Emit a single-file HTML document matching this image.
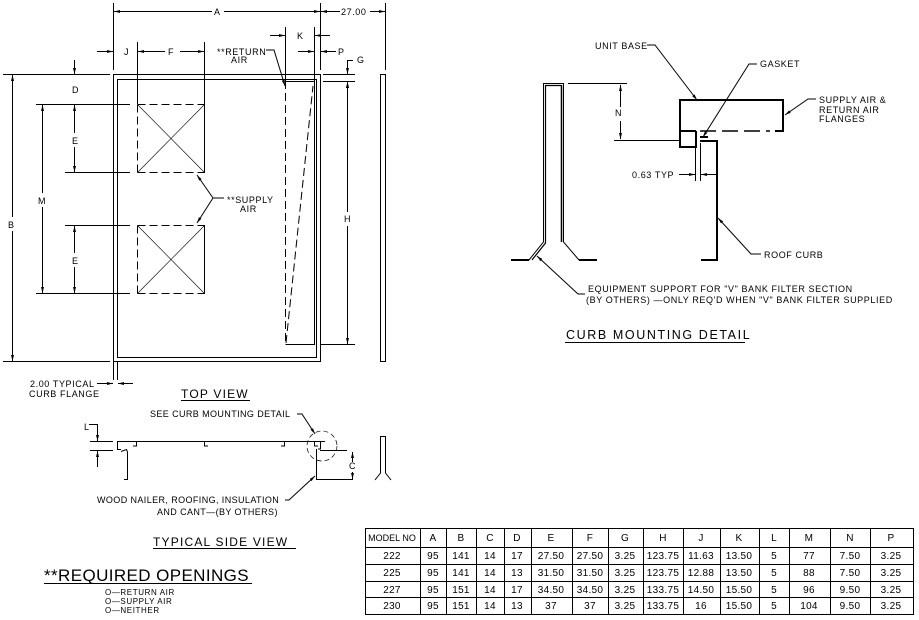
<!DOCTYPE html>
<html><head><meta charset="utf-8"><style>
html,body{margin:0;padding:0;background:#fff}
svg{display:block}
text{font-family:"Liberation Sans",sans-serif;font-size:9px;fill:#000;letter-spacing:0.6px}
.t{letter-spacing:1.6px}
.tb text{font-size:10px;letter-spacing:0.3px}
</style></head><body>
<svg width="919" height="620" viewBox="0 0 919 620" xmlns="http://www.w3.org/2000/svg">
<defs>
<marker id="ar" viewBox="0 0 6 4" refX="6" refY="2" markerWidth="6" markerHeight="4" orient="auto-start-reverse" markerUnits="userSpaceOnUse"><path d="M0,0.5 L6,2 L0,3.5z" fill="#000"/></marker>
</defs>
<g stroke="#000" stroke-width="1" fill="none">
<rect x="113.5" y="74.5" width="207" height="287"/>
<rect x="117.5" y="79.5" width="199" height="278"/>
<g stroke-dasharray="8,4"><line x1="137.5" y1="104.5" x2="204.5" y2="104.5"/><line x1="137.5" y1="172.5" x2="204.5" y2="172.5"/><line x1="137.5" y1="104.5" x2="137.5" y2="172.5"/>
<line x1="137.5" y1="225.5" x2="204.5" y2="225.5"/><line x1="137.5" y1="293.5" x2="204.5" y2="293.5"/><line x1="137.5" y1="225.5" x2="137.5" y2="293.5"/>
<line x1="285.5" y1="81" x2="285.5" y2="344"/><line x1="286" y1="343" x2="313" y2="86"/></g>
<line x1="204.5" y1="104" x2="204.5" y2="173"/><line x1="204.5" y1="225" x2="204.5" y2="294"/>
<g stroke-width="0.6"><line x1="138" y1="105" x2="204" y2="172"/><line x1="204" y1="105" x2="138" y2="172"/><line x1="138" y1="226" x2="204" y2="293"/><line x1="204" y1="226" x2="138" y2="293"/></g>
<polyline points="285.5,81.5 314.5,81.5 314.5,344.5 285.5,344.5"/>
<rect x="380.5" y="74.5" width="5" height="287"/>
<line x1="113.5" y1="3" x2="113.5" y2="70"/><line x1="320.5" y1="3" x2="320.5" y2="70"/><line x1="385.5" y1="3" x2="385.5" y2="70"/>
<line x1="137.5" y1="42" x2="137.5" y2="104"/><line x1="204.5" y1="42" x2="204.5" y2="104"/>
<line x1="285.5" y1="27" x2="285.5" y2="81"/><line x1="314.5" y1="27" x2="314.5" y2="81"/>
<line x1="3" y1="74.5" x2="110" y2="74.5"/><line x1="3" y1="361.5" x2="110" y2="361.5"/>
<line x1="36" y1="104.5" x2="130" y2="104.5"/><line x1="65" y1="172.5" x2="130" y2="172.5"/>
<line x1="65" y1="225.5" x2="130" y2="225.5"/><line x1="36" y1="293.5" x2="130" y2="293.5"/>
<line x1="323" y1="74.5" x2="355" y2="74.5"/><line x1="323" y1="81.5" x2="355" y2="81.5"/><line x1="320" y1="344.5" x2="355" y2="344.5"/>
<line x1="113.5" y1="361" x2="113.5" y2="380"/><line x1="117.5" y1="361" x2="117.5" y2="380"/>
<line x1="114" y1="11.5" x2="212" y2="11.5" marker-start="url(#ar)"/><line x1="224" y1="11.5" x2="320" y2="11.5" marker-end="url(#ar)"/>
<line x1="321" y1="11.5" x2="340" y2="11.5" marker-start="url(#ar)"/><line x1="370" y1="11.5" x2="385" y2="11.5" marker-end="url(#ar)"/>
<line x1="97" y1="51.5" x2="113" y2="51.5" marker-end="url(#ar)"/>
<line x1="138" y1="51.5" x2="165" y2="51.5" marker-start="url(#ar)"/><line x1="180" y1="51.5" x2="204" y2="51.5" marker-end="url(#ar)"/>
<line x1="270" y1="35.5" x2="285" y2="35.5" marker-end="url(#ar)"/><line x1="330" y1="35.5" x2="315" y2="35.5" marker-end="url(#ar)"/>
<line x1="298" y1="51.5" x2="314" y2="51.5" marker-end="url(#ar)"/><line x1="336" y1="51.5" x2="321" y2="51.5" marker-end="url(#ar)"/>
<polyline points="347.5,74 347.5,60.5 353,60.5" marker-start="url(#ar)"/><line x1="347.5" y1="90" x2="347.5" y2="82" marker-end="url(#ar)"/>
<line x1="347.5" y1="82" x2="347.5" y2="212" marker-start="url(#ar)"/><line x1="347.5" y1="226" x2="347.5" y2="344" marker-end="url(#ar)"/>
<line x1="74.5" y1="60" x2="74.5" y2="74" marker-end="url(#ar)"/>
<line x1="74.5" y1="105" x2="74.5" y2="133" marker-start="url(#ar)"/><line x1="74.5" y1="147" x2="74.5" y2="172" marker-end="url(#ar)"/>
<line x1="74.5" y1="226" x2="74.5" y2="253" marker-start="url(#ar)"/><line x1="74.5" y1="267" x2="74.5" y2="293" marker-end="url(#ar)"/>
<line x1="42.5" y1="105" x2="42.5" y2="193" marker-start="url(#ar)"/><line x1="42.5" y1="207" x2="42.5" y2="293" marker-end="url(#ar)"/>
<line x1="12.5" y1="75" x2="12.5" y2="217" marker-start="url(#ar)"/><line x1="12.5" y1="231" x2="12.5" y2="361" marker-end="url(#ar)"/>
<line x1="97" y1="383.5" x2="113" y2="383.5" marker-end="url(#ar)"/><line x1="133" y1="383.5" x2="118" y2="383.5" marker-end="url(#ar)"/>
<polyline points="266,50 274,50 285,86" marker-end="url(#ar)"/>
<polyline points="224,198 213,198 197,175" marker-end="url(#ar)"/><line x1="213" y1="198" x2="197" y2="223" marker-end="url(#ar)"/>

<line x1="117" y1="441.5" x2="325" y2="441.5"/>
<polyline points="117.5,441 117.5,449.5 121,449.5"/><polyline points="121,451.5 126.5,449.5 127.5,452 127.5,479.5 124,479.5"/>
<polyline points="136.5,441 136.5,446 133,446"/><polyline points="204.5,441 204.5,446 208,446"/><polyline points="284.5,441 284.5,446 281,446"/>
<polyline points="314.5,441 314.5,446 318,446"/><polyline points="320.5,441 320.5,449 318,449"/>
<polyline points="320,450.5 347,450.5"/><polyline points="316.5,449 316.5,479.5 321,479.5"/><line x1="320" y1="479.5" x2="353" y2="479.5"/>
<circle cx="322" cy="446" r="15" stroke-dasharray="5,3" stroke-width="0.7"/>
<line x1="352.5" y1="452" x2="352.5" y2="462" marker-start="url(#ar)"/><line x1="352.5" y1="472" x2="352.5" y2="479" marker-end="url(#ar)"/>
<polyline points="375,480 380.5,473 380.5,436.5 385.5,436.5 385.5,473 391,480"/>
<line x1="90" y1="441.5" x2="113" y2="441.5"/><line x1="90" y1="450.5" x2="113" y2="450.5"/>
<polyline points="89,424.5 97.5,424.5 97.5,441" marker-end="url(#ar)"/><line x1="97.5" y1="467" x2="97.5" y2="451" marker-end="url(#ar)"/>
<polyline points="297,414 302,414 315,434" marker-end="url(#ar)"/>
<polyline points="285,500 289,500 315,476" marker-end="url(#ar)"/>
<line x1="181" y1="400.5" x2="250" y2="400.5"/><line x1="153" y1="548.5" x2="296" y2="548.5"/><line x1="44" y1="583.5" x2="252" y2="583.5"/>

<g stroke-width="2"><polyline points="696,131 680,131 680,100 783,100 783,131 775,131"/><polyline points="696,131 696,147 680,147 680,131"/>
<polyline points="700,141 717,141 717,260 701,260"/><line x1="700" y1="137" x2="708" y2="137"/>
<line x1="511" y1="260" x2="529" y2="260"/><line x1="579" y1="260" x2="597" y2="260"/></g>
<line x1="700" y1="131" x2="770" y2="131" stroke-dasharray="16,6" stroke-width="1.5"/>
<polyline points="529,260 543.5,242 543.5,83.5 563.5,83.5 563.5,242 579,260"/><polyline points="532,260 545.5,243 545.5,85.5 561.5,85.5" stroke-width="1.2"/><line x1="561.5" y1="85" x2="561.5" y2="242" stroke-width="1.5"/>
<line x1="568" y1="83.5" x2="627" y2="83.5"/><line x1="614" y1="140.5" x2="680" y2="140.5"/>
<line x1="620.5" y1="85" x2="620.5" y2="107" marker-start="url(#ar)"/><line x1="620.5" y1="121" x2="620.5" y2="139" marker-end="url(#ar)"/>
<line x1="695.5" y1="143" x2="695.5" y2="181"/><line x1="700.5" y1="143" x2="700.5" y2="181"/>
<line x1="679" y1="174.5" x2="695" y2="174.5" marker-end="url(#ar)"/><line x1="716" y1="174.5" x2="701" y2="174.5" marker-end="url(#ar)"/>
<polyline points="647,45 655,45 697,100" marker-end="url(#ar)"/>
<polyline points="757,64 749,64 703,137" marker-end="url(#ar)"/>
<polyline points="816,99 808,99 785,115" marker-end="url(#ar)"/>
<polyline points="761,254 751,254 718,218" marker-end="url(#ar)"/>
<polyline points="585,294 578,294 537,256" marker-end="url(#ar)"/>
<line x1="565" y1="342.5" x2="745" y2="342.5"/>

<rect x="365.5" y="528.5" width="548" height="86"/>
<line x1="365" y1="547.5" x2="913" y2="547.5"/><line x1="365" y1="564.5" x2="913" y2="564.5"/><line x1="365" y1="581.5" x2="913" y2="581.5"/><line x1="365" y1="597.5" x2="913" y2="597.5"/>
<line x1="420.5" y1="528" x2="420.5" y2="614"/><line x1="446.5" y1="528" x2="446.5" y2="614"/><line x1="476.5" y1="528" x2="476.5" y2="614"/><line x1="504.5" y1="528" x2="504.5" y2="614"/><line x1="531.5" y1="528" x2="531.5" y2="614"/><line x1="572.5" y1="528" x2="572.5" y2="614"/><line x1="608.5" y1="528" x2="608.5" y2="614"/><line x1="643.5" y1="528" x2="643.5" y2="614"/><line x1="683.5" y1="528" x2="683.5" y2="614"/><line x1="720.5" y1="528" x2="720.5" y2="614"/><line x1="759.5" y1="528" x2="759.5" y2="614"/><line x1="789.5" y1="528" x2="789.5" y2="614"/><line x1="830.5" y1="528" x2="830.5" y2="614"/><line x1="870.5" y1="528" x2="870.5" y2="614"/>
</g>

<g>
<text x="214" y="15">A</text><text x="341" y="15">27.00</text>
<text x="124" y="55">J</text><text x="168" y="55">F</text><text x="297" y="39">K</text><text x="338" y="55">P</text><text x="357" y="63">G</text>
<text x="217" y="55">**RETURN</text><text x="231" y="63">AIR</text>
<text x="72" y="93">D</text><text x="72" y="144">E</text><text x="72" y="264">E</text><text x="38" y="204">M</text><text x="8" y="228">B</text><text x="344" y="222">H</text>
<text x="227" y="203">**SUPPLY</text><text x="240" y="212">AIR</text>
<text x="30" y="387">2.00 TYPICAL</text><text x="29" y="397">CURB FLANGE</text>
<text x="181" y="398" style="font-size:12px;letter-spacing:1.2px">TOP VIEW</text>
<text x="150" y="417" style="letter-spacing:0.4px">SEE CURB MOUNTING DETAIL</text>
<text x="84" y="430">L</text><text x="349" y="469">C</text>
<text x="97" y="503" style="letter-spacing:0.4px">WOOD NAILER, ROOFING, INSULATION</text><text x="157" y="515" style="letter-spacing:0.4px">AND CANT—(BY OTHERS)</text>
<text x="153" y="546" style="font-size:12px;letter-spacing:1.2px">TYPICAL SIDE VIEW</text>
<text x="44" y="581" style="font-size:17px;letter-spacing:0.4px">**REQUIRED  OPENINGS</text>
<text x="105" y="595" style="font-size:8px">O—RETURN AIR</text><text x="105" y="604" style="font-size:8px">O—SUPPLY AIR</text><text x="105" y="613" style="font-size:8px">O—NEITHER</text>
<text x="595" y="49">UNIT BASE</text><text x="760" y="67">GASKET</text>
<text x="819" y="103">SUPPLY AIR &amp;</text><text x="819" y="113">RETURN AIR</text><text x="819" y="122">FLANGES</text>
<text x="632" y="178">0.63 TYP</text><text x="615" y="116">N</text>
<text x="764" y="258">ROOF CURB</text>
<text x="588" y="292">EQUIPMENT SUPPORT FOR "V" BANK FILTER SECTION</text>
<text x="586" y="303">(BY OTHERS) —ONLY REQ'D WHEN "V" BANK FILTER SUPPLIED</text>
<text x="566" y="339" class="t" style="font-size:12.5px">CURB MOUNTING DETAIL</text>
</g>
<g text-anchor="middle" class="tb">
<text x="392" y="541" style="font-size:9px;letter-spacing:0">MODEL NO</text><text x="433" y="541">A</text><text x="461" y="541">B</text><text x="490" y="541">C</text><text x="517" y="541">D</text><text x="551" y="541">E</text><text x="590" y="541">F</text><text x="625" y="541">G</text><text x="663" y="541">H</text><text x="701" y="541">J</text><text x="739" y="541">K</text><text x="774" y="541">L</text><text x="809" y="541">M</text><text x="850" y="541">N</text><text x="891" y="541">P</text>
<text x="392" y="559">222</text><text x="433" y="559">95</text><text x="461" y="559">141</text><text x="490" y="559">14</text><text x="517" y="559">17</text><text x="551" y="559">27.50</text><text x="590" y="559">27.50</text><text x="625" y="559">3.25</text><text x="663" y="559">123.75</text><text x="701" y="559">11.63</text><text x="739" y="559">13.50</text><text x="774" y="559">5</text><text x="809" y="559">77</text><text x="850" y="559">7.50</text><text x="891" y="559">3.25</text>
<text x="392" y="576">225</text><text x="433" y="576">95</text><text x="461" y="576">141</text><text x="490" y="576">14</text><text x="517" y="576">13</text><text x="551" y="576">31.50</text><text x="590" y="576">31.50</text><text x="625" y="576">3.25</text><text x="663" y="576">123.75</text><text x="701" y="576">12.88</text><text x="739" y="576">13.50</text><text x="774" y="576">5</text><text x="809" y="576">88</text><text x="850" y="576">7.50</text><text x="891" y="576">3.25</text>
<text x="392" y="593">227</text><text x="433" y="593">95</text><text x="461" y="593">151</text><text x="490" y="593">14</text><text x="517" y="593">17</text><text x="551" y="593">34.50</text><text x="590" y="593">34.50</text><text x="625" y="593">3.25</text><text x="663" y="593">133.75</text><text x="701" y="593">14.50</text><text x="739" y="593">15.50</text><text x="774" y="593">5</text><text x="809" y="593">96</text><text x="850" y="593">9.50</text><text x="891" y="593">3.25</text>
<text x="392" y="609">230</text><text x="433" y="609">95</text><text x="461" y="609">151</text><text x="490" y="609">14</text><text x="517" y="609">13</text><text x="551" y="609">37</text><text x="590" y="609">37</text><text x="625" y="609">3.25</text><text x="663" y="609">133.75</text><text x="701" y="609">16</text><text x="739" y="609">15.50</text><text x="774" y="609">5</text><text x="809" y="609">104</text><text x="850" y="609">9.50</text><text x="891" y="609">3.25</text>
</g>
</svg>
</body></html>
